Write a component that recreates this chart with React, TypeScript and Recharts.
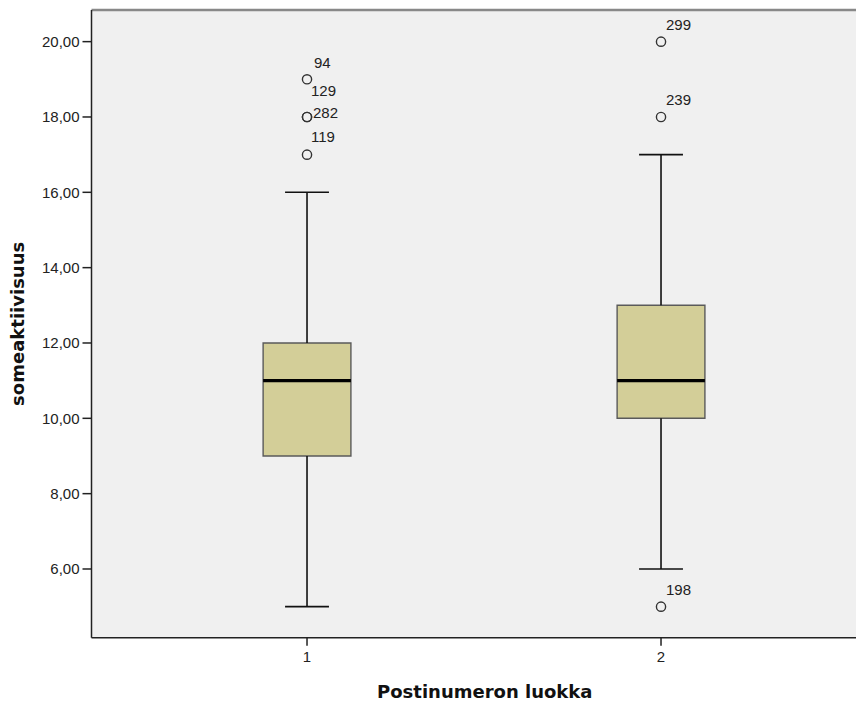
import React from 'react';
import {
  ComposedChart,
  XAxis,
  YAxis,
  Scatter,
  ReferenceArea,
  ReferenceLine,
  CartesianGrid,
} from 'recharts';

// ---- data ----
const categories = [1, 2];
const categoryLabels = ['1', '2'];
const q1Values = [9, 10];
const medianValues = [11, 11];
const q3Values = [12, 13];
const whiskerLow = [5, 6];
const whiskerHigh = [16, 17];

const outlierGroups = [1, 1, 1, 1, 2, 2, 2];
const outlierValues = [19, 18, 18, 17, 20, 18, 5];
const outlierIds = ['94', '129', '282', '119', '299', '239', '198'];

const yTicks = [6, 8, 10, 12, 14, 16, 18, 20];

// ---- layout / style ----
const X_DOMAIN: [number, number] = [0.3912, 2.5734];
const Y_DOMAIN: [number, number] = [4.176, 20.84];
const BOX_HALF = 0.124;
const CAP_HALF = 0.062;
const BOX_FILL = '#d3ce98';
const BOX_STROKE = '#5a5a5a';

const labelOffsets: Record<string, { dx: number; dy: number }> = {
  '94': { dx: 7, dy: -11 },
  '129': { dx: 4, dy: -21 },
  '282': { dx: 6, dy: 1 },
  '119': { dx: 4, dy: -13 },
};
const defaultOffset = { dx: 5, dy: -11.5 };

const outlierData = outlierGroups.map((g, i) => ({
  x: g,
  y: outlierValues[i],
  id: outlierIds[i],
}));

const OutlierShape = (props: any) => {
  const { cx, cy, payload } = props;
  if (cx == null || cy == null) return null;
  const off = labelOffsets[payload.id] || defaultOffset;
  return (
    <g>
      <circle cx={cx} cy={cy} r={4.6} fill="none" stroke="#333" strokeWidth={1.4} />
      <text
        x={cx + off.dx}
        y={cy + off.dy}
        fontFamily="'Liberation Sans', Arial, sans-serif"
        fontSize={15}
        fill="#222"
        textAnchor="start"
      >
        {payload.id}
      </text>
    </g>
  );
};

const tickStyle = {
  fontFamily: "'Liberation Sans', Arial, sans-serif",
  fontSize: 15,
  fill: '#222',
};

export default function App() {
  return (
    <div style={{ width: 856, height: 694, overflow: 'hidden' }}>
      <style>{'html,body{overflow:hidden;}'}</style>
      <ComposedChart
        width={856}
        height={700}
        margin={{ top: 2, right: 0, bottom: 0, left: 0 }}
      >
        <CartesianGrid fill="#f0f0f0" horizontal={false} vertical={false} />
        <XAxis
          type="number"
          dataKey="x"
          domain={X_DOMAIN}
          allowDataOverflow
          ticks={categories}
          tickFormatter={(v: number) => categoryLabels[categories.indexOf(v)] ?? String(v)}
          height={70.3}
          tickSize={8}
          tickMargin={6}
          tick={tickStyle}
          axisLine={{ stroke: '#222', strokeWidth: 1.5 }}
          tickLine={{ stroke: '#222', strokeWidth: 1.5 }}
          label={{
            value: 'Postinumeron luokka',
            position: 'insideBottom',
            offset: 10,
            dx: 7,
            style: {
              fontFamily: "'DejaVu Sans', sans-serif",
              fontWeight: 'bold',
              fontSize: 18,
              fill: '#111',
              textAnchor: 'middle',
            },
          }}
        />
        <YAxis
          type="number"
          dataKey="y"
          domain={Y_DOMAIN}
          allowDataOverflow
          ticks={yTicks}
          tickFormatter={(v: number) => v.toFixed(2).replace('.', ',')}
          width={83.5}
          tickSize={9}
          tickMargin={3}
          tick={tickStyle}
          axisLine={{ stroke: '#222', strokeWidth: 1.5 }}
          tickLine={{ stroke: '#222', strokeWidth: 1.5 }}
          label={{
            value: 'someaktiivisuus',
            angle: -90,
            position: 'insideLeft',
            offset: 10,
            style: {
              fontFamily: "'DejaVu Sans', sans-serif",
              fontWeight: 'bold',
              fontSize: 18,
              fill: '#111',
              textAnchor: 'middle',
            },
          }}
        />
        <ReferenceLine y={Y_DOMAIN[1]} stroke="#888" strokeWidth={2.5} />
        {categories.map((c, i) => (
          <ReferenceLine
            key={'wu' + c}
            segment={[
              { x: c, y: q3Values[i] },
              { x: c, y: whiskerHigh[i] },
            ]}
            stroke="#111"
            strokeWidth={1.6}
          />
        ))}
        {categories.map((c, i) => (
          <ReferenceLine
            key={'wl' + c}
            segment={[
              { x: c, y: whiskerLow[i] },
              { x: c, y: q1Values[i] },
            ]}
            stroke="#111"
            strokeWidth={1.6}
          />
        ))}
        {categories.map((c, i) => (
          <ReferenceLine
            key={'cu' + c}
            segment={[
              { x: c - CAP_HALF, y: whiskerHigh[i] },
              { x: c + CAP_HALF, y: whiskerHigh[i] },
            ]}
            stroke="#111"
            strokeWidth={1.6}
          />
        ))}
        {categories.map((c, i) => (
          <ReferenceLine
            key={'cl' + c}
            segment={[
              { x: c - CAP_HALF, y: whiskerLow[i] },
              { x: c + CAP_HALF, y: whiskerLow[i] },
            ]}
            stroke="#111"
            strokeWidth={1.6}
          />
        ))}
        {categories.map((c, i) => (
          <ReferenceArea
            key={'box' + c}
            x1={c - BOX_HALF}
            x2={c + BOX_HALF}
            y1={q1Values[i]}
            y2={q3Values[i]}
            fill={BOX_FILL}
            fillOpacity={1}
            stroke={BOX_STROKE}
            strokeWidth={1.4}
          />
        ))}
        {categories.map((c, i) => (
          <ReferenceLine
            key={'med' + c}
            segment={[
              { x: c - BOX_HALF, y: medianValues[i] },
              { x: c + BOX_HALF, y: medianValues[i] },
            ]}
            stroke="#000"
            strokeWidth={3.4}
          />
        ))}
        <Scatter
          data={outlierData}
          dataKey="y"
          shape={<OutlierShape />}
          isAnimationActive={false}
        />
      </ComposedChart>
    </div>
  );
}
